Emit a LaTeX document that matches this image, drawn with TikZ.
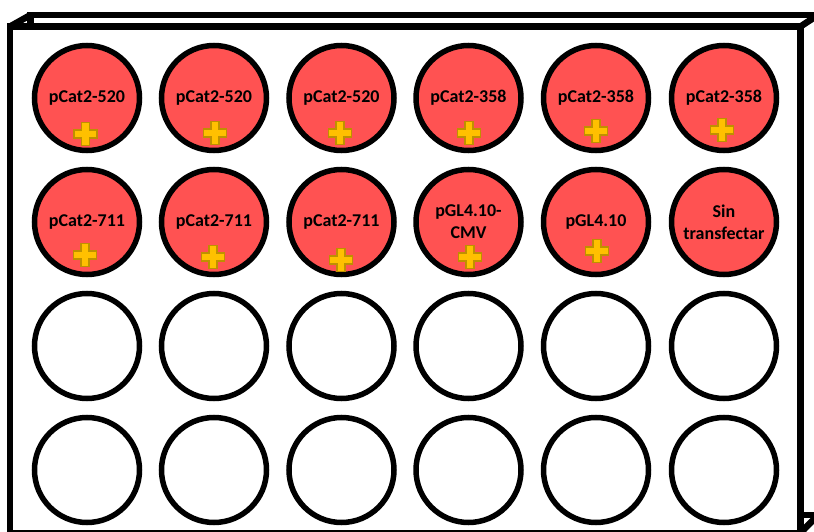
\documentclass[tikz,border=0pt]{standalone}
\usepackage{fontspec}
\setmainfont{Carlito}
\usetikzlibrary{positioning}
\definecolor{WellRed}{HTML}{FF5252}
\definecolor{PlusGold}{HTML}{FFC000}
\definecolor{PlusEdge}{HTML}{BF9000}
\tikzset{
  well/.style={circle,draw=black,line width=5.5pt,minimum size=105pt,inner sep=0pt,
    align=center,font=\bfseries\fontsize{18}{22}\selectfont},
  fullwell/.style={well,fill=WellRed},
  plus/.pic={
    \draw[fill=PlusGold,draw=PlusEdge,line width=1.4pt,line join=miter]
      (-4,-11.5) -- (4,-11.5) -- (4,-4) -- (11.5,-4) -- (11.5,4) -- (4,4)
      -- (4,11.5) -- (-4,11.5) -- (-4,4) -- (-11.5,4) -- (-11.5,-4) -- (-4,-4) -- cycle;
  }
}

\begin{document}
\begin{tikzpicture}[x=1pt,y=-1pt]
  \useasboundingbox (0,0) rectangle (814,532);
  % plate outline, back and front
  \draw[line width=6.5pt,line join=miter] (30.5,15) rectangle (818,515);
  \draw[line width=6.5pt] (10,26.5) -- (30.5,15);
  \draw[line width=6.5pt] (800.5,26.5) -- (818,15);
  \draw[line width=6.5pt] (800.5,533) -- (818,515);
  \draw[fill=white,line width=6.5pt,line join=miter] (10,26.5) rectangle (800.5,533.5);

  % row 1
  \node[fullwell] (w11) at (87,98) {pCat2-520};
  \node[fullwell] (w12) at (214,98) {pCat2-520};
  \node[fullwell] (w13) at (341.5,98) {pCat2-520};
  \node[fullwell] (w14) at (468.5,98) {pCat2-358};
  \node[fullwell] (w15) at (596,98) {pCat2-358};
  \node[fullwell] (w16) at (724,98) {pCat2-358};
  % row 2
  \node[fullwell] (w21) at (87,222) {pCat2-711};
  \node[fullwell] (w22) at (214,222) {pCat2-711};
  \node[fullwell] (w23) at (341.5,222) {pCat2-711};
  \node[fullwell] (w24) at (468.5,222) {pGL4.10-\\CMV};
  \node[fullwell] (w25) at (596,222) {pGL4.10};
  \node[fullwell] (w26) at (724,222) {Sin\\transfectar};
  % rows 3 and 4, empty
  \node[well] (w31) at (87,346) {};
  \node[well] (w32) at (214,346) {};
  \node[well] (w33) at (341.5,346) {};
  \node[well] (w34) at (468.5,346) {};
  \node[well] (w35) at (596,346) {};
  \node[well] (w36) at (724,346) {};
  \node[well] (w41) at (87,470) {};
  \node[well] (w42) at (214,470) {};
  \node[well] (w43) at (341.5,470) {};
  \node[well] (w44) at (468.5,470) {};
  \node[well] (w45) at (596,470) {};
  \node[well] (w46) at (724,470) {};

  % plus marks
  \pic at ([shift={(-1.5,36)}]w11) {plus};
  \pic at ([shift={(1,35)}]w12) {plus};
  \pic at ([shift={(-1.5,35)}]w13) {plus};
  \pic at ([shift={(0.5,35)}]w14) {plus};
  \pic at ([shift={(0,33)}]w15) {plus};
  \pic at ([shift={(-2,32)}]w16) {plus};
  \pic at ([shift={(-2,33)}]w21) {plus};
  \pic at ([shift={(-1,35)}]w22) {plus};
  \pic at ([shift={(-0.5,38)}]w23) {plus};
  \pic at ([shift={(1.5,35)}]w24) {plus};
  \pic at ([shift={(1,29)}]w25) {plus};
\end{tikzpicture}
\end{document}
